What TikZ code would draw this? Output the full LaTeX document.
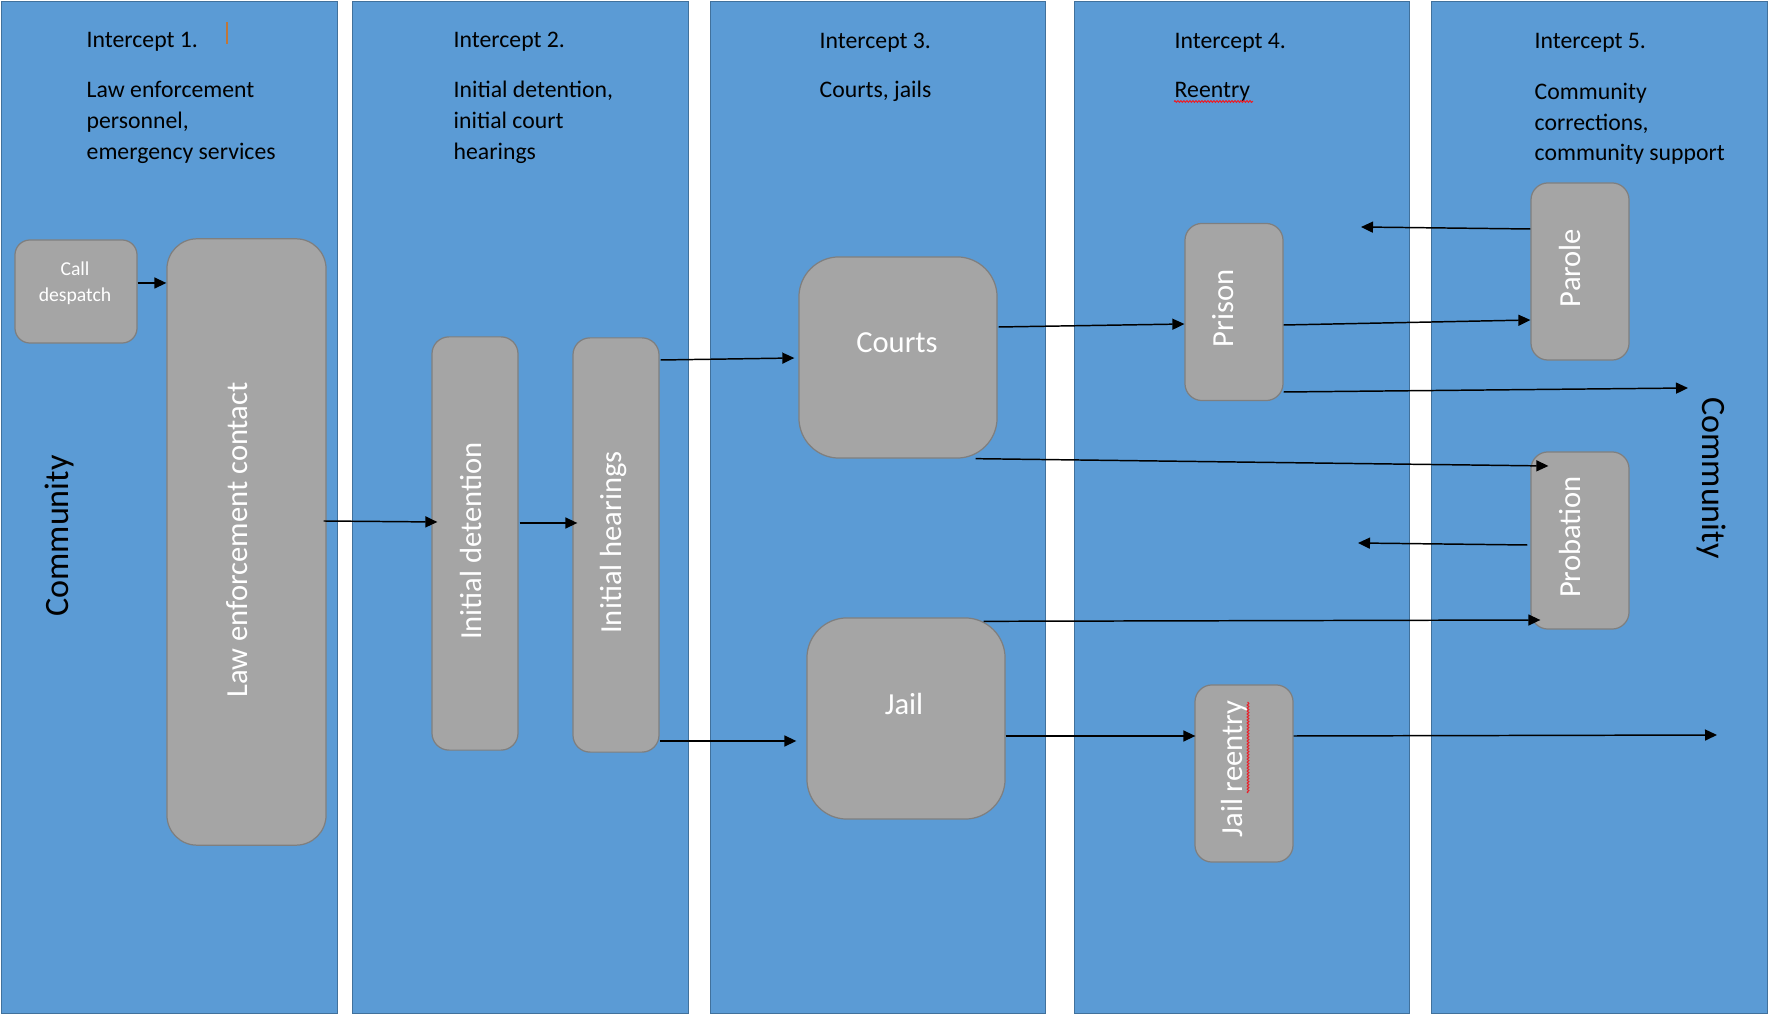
\documentclass[tikz,border=0pt]{standalone}
\usepackage{fontspec}
\setmainfont{Carlito}
\usetikzlibrary{arrows.meta,calc,decorations.pathmorphing}
\definecolor{laneblue}{HTML}{5B9BD5}
\definecolor{laneedge}{HTML}{41719C}
\definecolor{boxgray}{HTML}{A5A5A5}
\definecolor{boxedge}{HTML}{7F7F7F}
\definecolor{cursorbrown}{HTML}{C0773A}
\definecolor{spellred}{HTML}{E8202A}
\begin{document}
\begin{tikzpicture}[x=0.01cm,y=-0.01cm,
  lane/.style={draw=laneedge,fill=laneblue,line width=0.3pt,inner sep=0pt,minimum width=3.35cm,minimum height=10.11cm},
  box/.style={draw=boxedge,fill=boxgray,line width=0.35pt,inner sep=0pt},
  tallbox/.style={box,rounded corners=0.17cm,minimum width=0.98cm,minimum height=1.77cm},
  bigbox/.style={box,rounded corners=0.4cm,minimum width=1.98cm,minimum height=2.01cm},
  boxlabel/.style={text=white,inner sep=0pt,font=\fontsize{8.7}{10.4}\selectfont},
  vlabel/.style={boxlabel,rotate=90},
  smalllabel/.style={text=white,inner sep=0pt,anchor=base,font=\fontsize{5.6}{6.7}\selectfont},
  head/.style={text=black,inner sep=0pt,anchor=base west,font=\fontsize{6.75}{8.1}\selectfont},
  commlabel/.style={text=black,inner sep=0pt,font=\fontsize{9.7}{11.6}\selectfont},
  arr/.style={-{Triangle[length=0.12cm,width=0.11cm]},line width=0.42pt,black},
  spell/.style={draw=spellred,line width=0.3pt,decorate,decoration={snake,amplitude=0.008cm,segment length=0.03cm}}
]
\useasboundingbox (0,0) rectangle (1769,1016);

% lanes
\node[lane] (lane1) at (169.5,507.5) {};
\node[lane] (lane2) at (520.5,507.5) {};
\node[lane] (lane3) at (878,507.5) {};
\node[lane] (lane4) at (1242,507.5) {};
\node[lane] (lane5) at (1599.5,507.5) {};

% text cursor mark
\coordinate (curtop) at (227,22);
\coordinate (curbot) at (227,44);
\draw[cursorbrown,line width=0.35pt] (curtop) -- (curbot);

% headings
\node[head] (h1a) at (86,48) {Intercept 1.};
\node[head] (h1b) at (86,98) {Law enforcement};
\node[head] (h1c) at (86,129) {personnel,};
\node[head] (h1d) at (86,160) {emergency services};

\node[head] (h2a) at (453,48) {Intercept 2.};
\node[head] (h2b) at (453,98) {Initial detention,};
\node[head] (h2c) at (453,129) {initial court};
\node[head] (h2d) at (453,160) {hearings};

\node[head] (h3a) at (819,49) {Intercept 3.};
\node[head] (h3b) at (819,98) {Courts, jails};

\node[head] (h4a) at (1174,49) {Intercept 4.};
\node[head] (h4b) at (1174,98) {Reentry};
\coordinate (u4s) at (1174,101.5);
\coordinate (u4e) at (1253,101.5);
\draw[spell] (u4s) -- (u4e);

\node[head] (h5a) at (1534,49) {Intercept 5.};
\node[head] (h5b) at (1534,99.5) {Community};
\node[head] (h5c) at (1534,130.5) {corrections,};
\node[head] (h5d) at (1534,161) {community support};

% community labels
\node[commlabel,rotate=90] (commL) at (60,536) {Community};
\node[commlabel,rotate=-90] (commR) at (1711,478) {Community};

% boxes
\node[box,rounded corners=0.15cm,minimum width=1.22cm,minimum height=1.03cm] (calld) at (76,291.5) {};
\node[smalllabel] (calldA) at (75,275.5) {Call};
\node[smalllabel] (calldB) at (75,302) {despatch};

\node[box,rounded corners=0.3cm,minimum width=1.59cm,minimum height=6.06cm] (lec) at (246.5,542) {};
\node[vlabel] (lecT) at (237,540) {Law enforcement contact};

\node[box,rounded corners=0.17cm,minimum width=0.86cm,minimum height=4.13cm] (idet) at (475,543.5) {};
\node[vlabel] (idetT) at (471,541) {Initial detention};

\node[box,rounded corners=0.17cm,minimum width=0.86cm,minimum height=4.14cm] (ihear) at (616,545) {};
\node[vlabel] (ihearT) at (614,542.5) {Initial hearings};

\node[bigbox] (courts) at (898,357.5) {};
\node[boxlabel] (courtsT) at (897,343) {Courts};

\node[bigbox] (jail) at (906,718.5) {};
\node[boxlabel] (jailT) at (904,704) {Jail};

\node[tallbox] (prison) at (1234,312) {};
\node[vlabel] (prisonT) at (1223,308.5) {Prison};

\node[tallbox] (parole) at (1580,271.5) {};
\node[vlabel] (paroleT) at (1570,268) {Parole};

\node[tallbox] (probation) at (1580,540.5) {};
\node[vlabel] (probationT) at (1570,537) {Probation};

\node[tallbox] (jreentry) at (1244,773.5) {};
\node[vlabel] (jreentryT) at (1234,769) {Jail reentry};
\coordinate (u6s) at (1248,793);
\coordinate (u6e) at (1248,702);
\draw[spell] (u6s) -- (u6e);

% free ends
\coordinate (paroleOut) at (1361,227);
\coordinate (prisonOut) at (1688,388);
\coordinate (probOut) at (1358,543);
\coordinate (jreOut) at (1717,735);

% connectors
\draw[arr] ($(calld.east)+(0,-8.5)$) -- ($(lec.west)+(0,-259)$);
\draw[arr] ($(lec.east)+(-3,-21)$) -- ($(idet.west)+(6,-21.5)$);
\draw[arr] ($(idet.east)+(1,-20.5)$) -- ($(ihear.west)+(5,-22)$);
\draw[arr] ($(ihear.east)+(1,-185)$) -- ($(courts.west)+(-4,0.5)$);
\draw[arr] ($(ihear.east)+(0,196)$) -- ($(jail.west)+(-10,22.5)$);
\draw[arr] ($(courts.east)+(1,-30.5)$) -- ($(prison.west)+(0,12)$);
\draw[arr] ($(prison.east)+(0,13)$) -- ($(parole.west)+(0,48.5)$);
\draw[arr] ($(parole.west)+(0,-42.5)$) -- (paroleOut);
\draw[arr] ($(prison.east)+(0,80)$) -- (prisonOut);
\draw[arr] ($(courts.south east)+(-22,0)$) -- ($(probation.west)+(18,-74.5)$);
\draw[arr] ($(probation.west)+(-3,4.5)$) -- (probOut);
\draw[arr] ($(jail.north east)+(-22,4)$) -- ($(probation.west)+(10,79.5)$);
\draw[arr] ($(jail.east)+(0,17.5)$) -- ($(jreentry.west)+(1,-37.5)$);
\draw[arr] ($(jreentry.east)+(0,-37.5)$) -- (jreOut);
\end{tikzpicture}
\end{document}
